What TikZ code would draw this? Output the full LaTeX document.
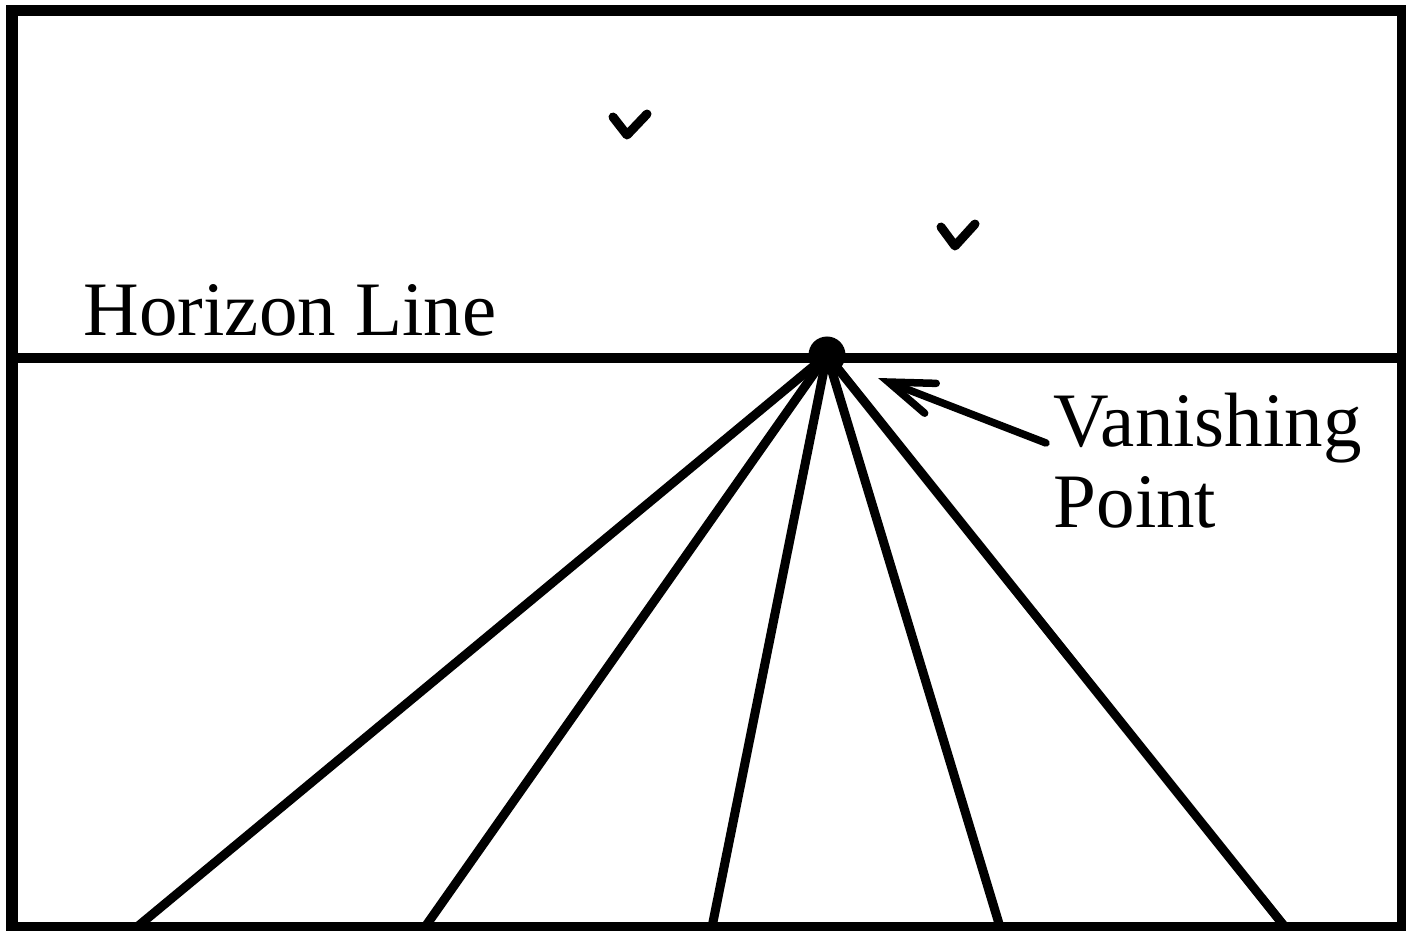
\documentclass[tikz,border=0pt]{standalone}
\usepackage{fontspec}
\setmainfont{Liberation Serif}
\usepackage{tikz}
\usetikzlibrary{arrows.meta,positioning}
\tikzstyle{frame} = [draw, line width=0.11cm]
\tikzstyle{horizon} = [draw, line width=0.1cm]
\tikzstyle{ray} = [draw, line width=0.09cm]
\tikzstyle{vpdot} = [circle, fill=black, inner sep=0pt, minimum size=0.37cm]
\tikzstyle{label} = [draw=none, fill=none, inner sep=0pt, font=\fontsize{21.9}{22.8}\selectfont]
\tikzstyle{pointer} = [draw, line width=0.075cm, line cap=round, -{Straight Barb[length=0.45cm, width=0.32cm, line cap=round]}]
\tikzstyle{bird} = [draw, line width=0.09cm, line cap=round, line join=round]

\begin{document}
\begin{tikzpicture}[x=0.01cm, y=-0.01cm]

\useasboundingbox (0,0) rectangle (1406,930);

% frame and horizon =============================
\path[frame] (12,10) rectangle (1402,927);
\coordinate (hl) at (12,358);
\coordinate (hr) at (1402,358);
\path[horizon] (hl) -- (hr);

% vanishing point
\node[vpdot] (vp) at (827,355) {};

% rays to the bottom edge
\foreach \i/\x in {1/137, 2/425, 3/712, 4/1000, 5/1285} {
  \coordinate (b\i) at (\x,927);
  \path[ray] (vp.center) -- (b\i);
}

% labels
\node[label, anchor=base west] (hlabel) at (83,335) {Horizon Line};
\node[label, anchor=base west, align=left] (vplabel) at (1053,527) {Vanishing\\Point};

% arrow to the vanishing point
\coordinate (tail) at (1046,443);
\coordinate (tip) at (878,378);
\path[pointer] (tail) -- (tip);

% birds
\path[bird] (613,117) -- (627,135) -- (647,114);
\path[bird] (941,227) -- (955,246) -- (975,224);

\end{tikzpicture}
\end{document}
